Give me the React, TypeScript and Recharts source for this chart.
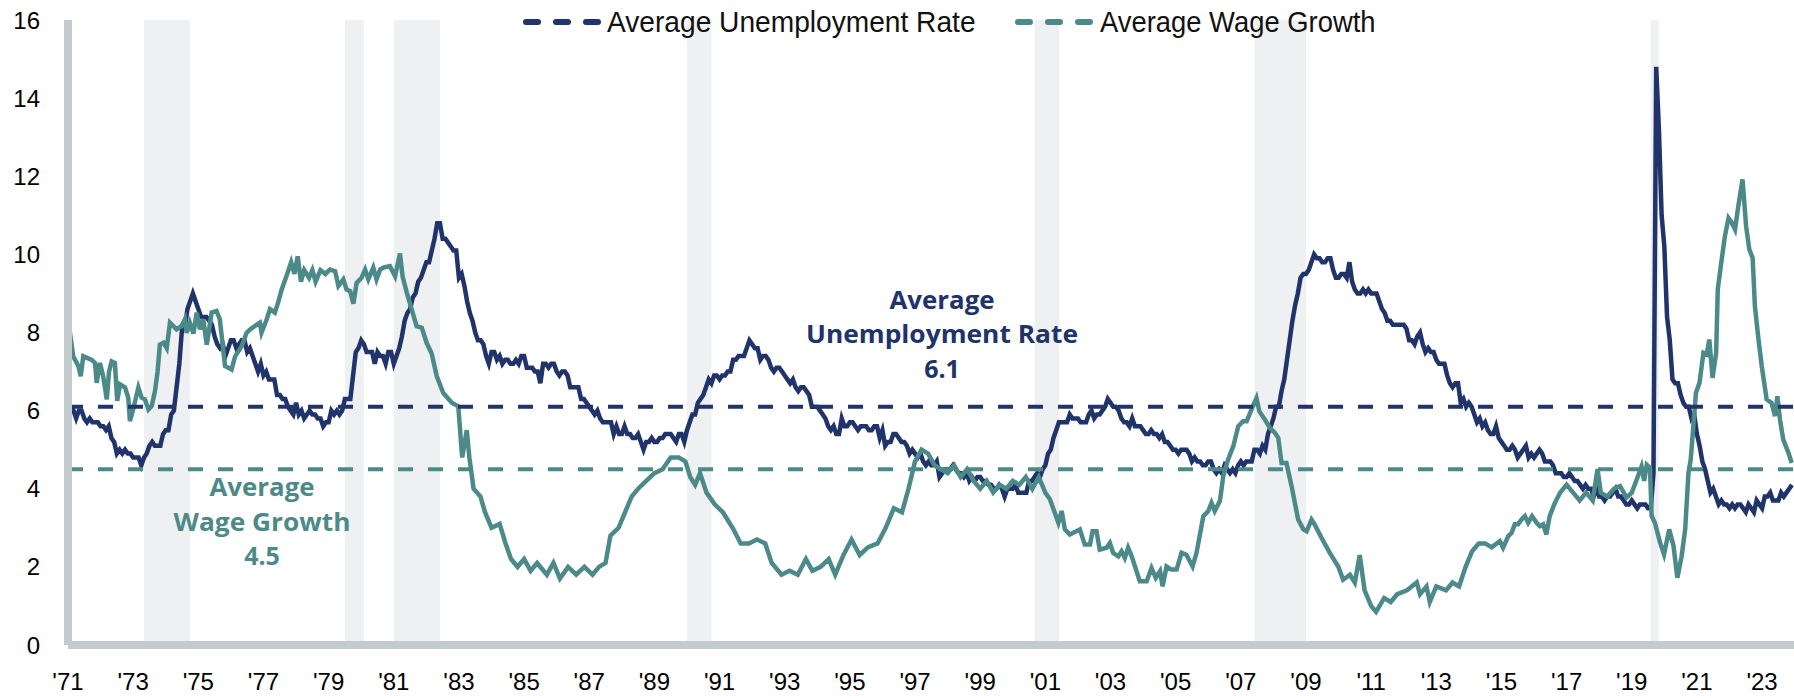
import React from 'react';
import { LineChart, Line, XAxis, YAxis, ReferenceLine, ReferenceArea } from 'recharts';

const NAVY = '#20336b';
const TEAL = '#4c8a8a';
const AXIS_GRAY = '#c3cbce';
const SHADE = '#eef0f2';

// monthly series start in July 1971; x is a decimal year
const START = 1971.5;
const END = 2024.48;

// US unemployment rate, Jul 1971 - Jun 2024
const unemployment = [
  6.0, 6.1, 6.0, 5.8, 6.0, 6.0,
  5.8, 5.7, 5.8, 5.7, 5.7, 5.7, 5.6, 5.6, 5.5, 5.6, 5.3, 5.2,
  4.9, 5.0, 4.9, 5.0, 4.9, 4.9, 4.8, 4.8, 4.8, 4.6, 4.8, 4.9,
  5.1, 5.2, 5.1, 5.1, 5.1, 5.4, 5.5, 5.5, 5.9, 6.0, 6.6, 7.2,
  8.1, 8.1, 8.6, 8.8, 9.0, 8.8, 8.6, 8.4, 8.4, 8.4, 8.3, 8.2,
  7.9, 7.7, 7.6, 7.7, 7.4, 7.6, 7.8, 7.8, 7.6, 7.7, 7.8, 7.8,
  7.5, 7.6, 7.4, 7.2, 7.0, 7.2, 6.9, 7.0, 6.8, 6.8, 6.8, 6.4,
  6.4, 6.3, 6.3, 6.1, 6.0, 5.9, 6.2, 5.9, 6.0, 5.8, 5.9, 6.0,
  5.9, 5.9, 5.8, 5.8, 5.6, 5.7, 5.7, 6.0, 5.9, 6.0, 5.9, 6.0,
  6.3, 6.3, 6.3, 6.9, 7.5, 7.6, 7.8, 7.7, 7.5, 7.5, 7.5, 7.2,
  7.5, 7.4, 7.4, 7.2, 7.5, 7.5, 7.2, 7.4, 7.6, 7.9, 8.3, 8.5,
  8.6, 8.9, 9.0, 9.3, 9.4, 9.6, 9.8, 9.8, 10.1, 10.4, 10.8, 10.8,
  10.4, 10.4, 10.3, 10.2, 10.1, 10.1, 9.4, 9.5, 9.2, 8.8, 8.5, 8.3,
  8.0, 7.8, 7.8, 7.7, 7.4, 7.2, 7.5, 7.5, 7.3, 7.4, 7.2, 7.3,
  7.3, 7.2, 7.2, 7.3, 7.2, 7.4, 7.4, 7.1, 7.1, 7.1, 7.0, 7.0,
  6.7, 7.2, 7.2, 7.1, 7.2, 7.2, 7.0, 6.9, 7.0, 7.0, 6.9, 6.6,
  6.6, 6.6, 6.6, 6.3, 6.3, 6.2, 6.1, 6.0, 5.9, 6.0, 5.8, 5.7,
  5.7, 5.7, 5.7, 5.4, 5.6, 5.4, 5.4, 5.6, 5.4, 5.4, 5.3, 5.3,
  5.4, 5.2, 5.0, 5.2, 5.2, 5.3, 5.2, 5.2, 5.3, 5.3, 5.4, 5.4,
  5.4, 5.3, 5.2, 5.4, 5.4, 5.2, 5.5, 5.7, 5.9, 5.9, 6.2, 6.3,
  6.4, 6.6, 6.8, 6.7, 6.9, 6.9, 6.8, 6.9, 6.9, 7.0, 7.0, 7.3,
  7.3, 7.4, 7.4, 7.4, 7.6, 7.8, 7.7, 7.6, 7.6, 7.3, 7.4, 7.4,
  7.3, 7.1, 7.0, 7.1, 7.1, 7.0, 6.9, 6.8, 6.7, 6.8, 6.6, 6.5,
  6.6, 6.6, 6.5, 6.4, 6.1, 6.1, 6.1, 6.0, 5.9, 5.8, 5.6, 5.5,
  5.6, 5.4, 5.4, 5.8, 5.6, 5.6, 5.7, 5.7, 5.6, 5.5, 5.6, 5.6,
  5.6, 5.5, 5.5, 5.6, 5.6, 5.3, 5.5, 5.1, 5.2, 5.2, 5.4, 5.4,
  5.3, 5.2, 5.2, 5.1, 4.9, 5.0, 4.9, 4.8, 4.9, 4.7, 4.6, 4.7,
  4.6, 4.6, 4.7, 4.3, 4.4, 4.5, 4.5, 4.5, 4.6, 4.5, 4.4, 4.4,
  4.3, 4.4, 4.2, 4.3, 4.2, 4.3, 4.3, 4.2, 4.2, 4.1, 4.1, 4.0,
  4.0, 4.1, 4.0, 3.8, 4.0, 4.0, 4.0, 4.1, 3.9, 3.9, 3.9, 3.9,
  4.2, 4.2, 4.3, 4.4, 4.3, 4.5, 4.6, 4.9, 5.0, 5.3, 5.5, 5.7,
  5.7, 5.7, 5.7, 5.9, 5.8, 5.8, 5.8, 5.7, 5.7, 5.7, 5.9, 6.0,
  5.8, 5.9, 5.9, 6.0, 6.1, 6.3, 6.2, 6.1, 6.1, 6.0, 5.8, 5.7,
  5.7, 5.6, 5.8, 5.6, 5.6, 5.6, 5.5, 5.4, 5.4, 5.5, 5.4, 5.4,
  5.3, 5.4, 5.2, 5.2, 5.1, 5.0, 5.0, 4.9, 5.0, 5.0, 5.0, 4.9,
  4.7, 4.8, 4.7, 4.7, 4.6, 4.6, 4.7, 4.7, 4.5, 4.4, 4.5, 4.4,
  4.6, 4.5, 4.4, 4.5, 4.4, 4.6, 4.7, 4.6, 4.7, 4.7, 4.7, 5.0,
  5.0, 4.9, 5.1, 5.0, 5.4, 5.6, 5.8, 6.1, 6.1, 6.5, 6.8, 7.3,
  7.8, 8.3, 8.7, 9.0, 9.4, 9.5, 9.5, 9.6, 9.8, 10.0, 9.9, 9.9,
  9.8, 9.8, 9.9, 9.9, 9.6, 9.4, 9.4, 9.5, 9.5, 9.4, 9.8, 9.3,
  9.1, 9.0, 9.0, 9.1, 9.0, 9.1, 9.0, 9.0, 9.0, 8.8, 8.6, 8.5,
  8.3, 8.3, 8.2, 8.2, 8.2, 8.2, 8.2, 8.1, 7.8, 7.8, 7.7, 7.9,
  8.0, 7.7, 7.5, 7.6, 7.5, 7.5, 7.3, 7.2, 7.2, 7.2, 6.9, 6.7,
  6.6, 6.7, 6.7, 6.2, 6.3, 6.1, 6.2, 6.1, 5.9, 5.7, 5.8, 5.6,
  5.7, 5.5, 5.4, 5.4, 5.6, 5.3, 5.2, 5.1, 5.0, 5.0, 5.1, 5.0,
  4.8, 4.9, 5.0, 5.1, 4.8, 4.9, 4.8, 4.9, 5.0, 4.9, 4.7, 4.7,
  4.7, 4.6, 4.4, 4.4, 4.4, 4.3, 4.3, 4.4, 4.3, 4.2, 4.2, 4.1,
  4.0, 4.1, 4.0, 4.0, 3.8, 4.0, 3.8, 3.8, 3.7, 3.8, 3.8, 3.9,
  4.0, 3.8, 3.8, 3.7, 3.6, 3.6, 3.7, 3.6, 3.5, 3.6, 3.6, 3.6,
  3.5, 3.5, 4.4, 14.8, 13.2, 11.0, 10.2, 8.4, 7.8, 6.8, 6.7, 6.7,
  6.4, 6.2, 6.1, 6.1, 5.8, 5.9, 5.4, 5.1, 4.7, 4.5, 4.2, 3.9,
  4.0, 3.8, 3.6, 3.7, 3.6, 3.6, 3.5, 3.6, 3.5, 3.6, 3.6, 3.5,
  3.4, 3.6, 3.5, 3.4, 3.7, 3.6, 3.5, 3.8, 3.8, 3.9, 3.7, 3.7,
  3.7, 3.9, 3.8, 3.9, 4.0, 4.1,
];

// wage growth, [decimal year, %]
const wageGrowth: [number, number][] = [
  [1971.51, 8.29], [1971.66, 7.39], [1971.82, 7.14], [1971.89, 6.88], [1971.97, 7.39],
  [1972.23, 7.3], [1972.33, 7.22], [1972.38, 6.71], [1972.48, 7.22], [1972.58, 6.88],
  [1972.69, 6.29], [1972.76, 7.0], [1972.84, 7.26], [1972.94, 7.22], [1973.01, 6.25],
  [1973.1, 6.67], [1973.25, 6.59], [1973.35, 6.33], [1973.4, 5.73], [1973.5, 6.03],
  [1973.66, 6.59], [1973.76, 6.33], [1973.86, 6.29], [1973.97, 6.03], [1974.07, 6.12],
  [1974.17, 6.5], [1974.25, 7.0], [1974.32, 7.69], [1974.43, 7.74], [1974.53, 7.6],
  [1974.63, 8.25], [1974.83, 8.08], [1974.99, 8.17], [1975.09, 8.34], [1975.14, 7.99],
  [1975.24, 8.25], [1975.35, 7.97], [1975.45, 8.51], [1975.55, 8.08], [1975.65, 8.34],
  [1975.76, 7.69], [1975.91, 8.51], [1976.06, 8.55], [1976.16, 8.34], [1976.32, 7.14],
  [1976.42, 7.1], [1976.52, 7.05], [1976.63, 7.39], [1976.83, 7.65], [1976.98, 7.99],
  [1977.09, 8.08], [1977.24, 8.17], [1977.39, 8.25], [1977.44, 8.0], [1977.6, 8.34],
  [1977.7, 8.6], [1977.85, 8.51], [1977.95, 8.77], [1978.06, 9.1], [1978.21, 9.45],
  [1978.35, 9.8], [1978.45, 9.5], [1978.55, 9.95], [1978.65, 9.3], [1978.75, 9.6],
  [1978.9, 9.4], [1979.0, 9.6], [1979.1, 9.3], [1979.25, 9.6], [1979.4, 9.5],
  [1979.54, 9.61], [1979.7, 9.57], [1979.8, 9.19], [1979.95, 9.36], [1980.05, 9.1],
  [1980.16, 9.06], [1980.26, 8.74], [1980.36, 9.27], [1980.51, 9.4], [1980.62, 9.61],
  [1980.72, 9.36], [1980.87, 9.66], [1980.97, 9.36], [1981.08, 9.61], [1981.18, 9.66],
  [1981.38, 9.7], [1981.54, 9.44], [1981.69, 10.02], [1981.77, 9.44], [1981.9, 9.02],
  [1982.05, 8.59], [1982.2, 8.16], [1982.36, 8.12], [1982.51, 7.73], [1982.66, 7.47],
  [1982.82, 6.88], [1983.02, 6.45], [1983.28, 6.2], [1983.48, 6.11], [1983.6, 4.8],
  [1983.74, 5.5], [1983.82, 4.8], [1983.95, 4.0], [1984.16, 3.8], [1984.3, 3.4],
  [1984.5, 3.0], [1984.75, 3.1], [1984.93, 2.6], [1985.1, 2.2], [1985.3, 2.0],
  [1985.5, 2.2], [1985.7, 1.9], [1985.9, 2.1], [1986.2, 1.8], [1986.4, 2.1],
  [1986.6, 1.7], [1986.85, 2.0], [1987.1, 1.8], [1987.35, 2.0], [1987.6, 1.8],
  [1987.8, 2.0], [1988.0, 2.1], [1988.15, 2.8], [1988.4, 3.0], [1988.55, 3.3],
  [1988.8, 3.8], [1989.0, 4.0], [1989.25, 4.2], [1989.5, 4.4], [1989.75, 4.5],
  [1990.0, 4.8], [1990.25, 4.8], [1990.45, 4.7], [1990.6, 4.3], [1990.75, 4.1],
  [1990.9, 4.4], [1991.1, 3.9], [1991.35, 3.6], [1991.6, 3.4], [1991.9, 3.0],
  [1992.15, 2.6], [1992.4, 2.6], [1992.65, 2.7], [1992.9, 2.6], [1993.1, 2.1],
  [1993.4, 1.8], [1993.65, 1.9], [1993.9, 1.8], [1994.15, 2.2], [1994.35, 1.9],
  [1994.6, 2.0], [1994.85, 2.2], [1995.05, 1.8], [1995.3, 2.3], [1995.55, 2.7],
  [1995.8, 2.3], [1996.05, 2.5], [1996.35, 2.6], [1996.6, 3.0], [1996.85, 3.5],
  [1997.1, 3.4], [1997.3, 4.0], [1997.5, 4.7], [1997.7, 5.0], [1997.9, 4.9],
  [1998.1, 4.6], [1998.3, 4.5], [1998.5, 4.4], [1998.7, 4.6], [1998.9, 4.3],
  [1999.1, 4.5], [1999.3, 4.2], [1999.5, 4.0], [1999.7, 4.2], [1999.9, 3.9],
  [2000.1, 4.1], [2000.3, 4.0], [2000.5, 4.2], [2000.7, 4.1], [2000.9, 4.3],
  [2001.1, 4.0], [2001.3, 4.3], [2001.5, 3.9], [2001.64, 3.73], [2001.9, 3.13],
  [2002.0, 3.43], [2002.1, 2.96], [2002.25, 2.83], [2002.56, 2.96], [2002.71, 2.57],
  [2002.87, 2.57], [2002.95, 2.91], [2003.07, 2.91], [2003.17, 2.44], [2003.38, 2.49],
  [2003.48, 2.61], [2003.58, 2.36], [2003.74, 2.27], [2003.84, 2.4], [2003.94, 2.23],
  [2004.04, 2.49], [2004.15, 2.27], [2004.4, 1.63], [2004.61, 1.63], [2004.76, 1.97],
  [2004.89, 1.72], [2005.02, 1.89], [2005.1, 1.5], [2005.22, 2.01], [2005.37, 1.93],
  [2005.53, 1.93], [2005.68, 2.36], [2005.83, 2.31], [2006.02, 2.01], [2006.14, 2.36],
  [2006.35, 3.3], [2006.5, 3.43], [2006.6, 3.64], [2006.7, 3.43], [2006.86, 3.69],
  [2006.96, 4.32], [2007.11, 4.75], [2007.27, 5.09], [2007.42, 5.6], [2007.57, 5.73],
  [2007.68, 5.73], [2007.83, 6.03], [2007.98, 6.32], [2008.07, 5.98], [2008.24, 5.77],
  [2008.39, 5.56], [2008.55, 5.43], [2008.65, 5.3], [2008.75, 4.66], [2008.9, 4.66],
  [2009.06, 4.06], [2009.26, 3.21], [2009.42, 2.96], [2009.52, 2.91], [2009.67, 3.21],
  [2009.77, 3.08], [2009.98, 2.74], [2010.23, 2.36], [2010.49, 2.01], [2010.64, 1.67],
  [2010.85, 1.8], [2011.0, 1.6], [2011.15, 2.3], [2011.3, 1.4], [2011.5, 1.0],
  [2011.65, 0.85], [2011.9, 1.2], [2012.1, 1.1], [2012.3, 1.3], [2012.6, 1.4],
  [2012.9, 1.6], [2013.0, 1.3], [2013.2, 1.5], [2013.3, 1.1], [2013.5, 1.5],
  [2013.8, 1.4], [2014.0, 1.6], [2014.2, 1.5], [2014.4, 2.0], [2014.6, 2.4],
  [2014.8, 2.6], [2015.0, 2.6], [2015.2, 2.5], [2015.45, 2.66], [2015.55, 2.49],
  [2015.71, 2.79], [2015.81, 2.87], [2015.91, 3.09], [2016.01, 3.09], [2016.11, 3.21],
  [2016.22, 3.3], [2016.32, 3.13], [2016.44, 3.3], [2016.58, 3.13], [2016.68, 3.04],
  [2016.78, 3.09], [2016.88, 2.83], [2016.98, 3.3], [2017.14, 3.64], [2017.3, 3.9],
  [2017.5, 4.1], [2017.7, 3.9], [2017.9, 3.7], [2018.1, 3.9], [2018.3, 3.7],
  [2018.45, 4.5], [2018.55, 3.9], [2018.75, 3.8], [2018.95, 4.0], [2019.14, 4.07],
  [2019.34, 3.78], [2019.5, 3.9], [2019.65, 4.23], [2019.8, 4.57], [2019.88, 4.2],
  [2019.96, 4.61], [2020.06, 4.53], [2020.11, 3.3], [2020.21, 3.13], [2020.37, 2.62],
  [2020.49, 2.32], [2020.65, 2.96], [2020.78, 2.54], [2020.9, 1.72], [2021.03, 2.27],
  [2021.14, 2.96], [2021.24, 4.4], [2021.31, 4.75], [2021.39, 5.6], [2021.47, 6.46],
  [2021.58, 6.71], [2021.7, 7.48], [2021.8, 7.44], [2021.88, 7.82], [2021.98, 6.84],
  [2022.09, 7.48], [2022.14, 9.1], [2022.26, 9.87], [2022.36, 10.47], [2022.47, 10.93],
  [2022.57, 10.81], [2022.67, 10.64], [2022.77, 11.23], [2022.9, 11.92], [2023.01, 10.72],
  [2023.11, 10.12], [2023.21, 9.91], [2023.28, 8.67], [2023.39, 7.82], [2023.49, 7.14],
  [2023.64, 6.29], [2023.79, 6.2], [2023.9, 5.86], [2023.97, 6.37], [2024.05, 5.77],
  [2024.15, 5.26], [2024.31, 4.92], [2024.41, 4.66],
];

// NBER recessions, start and end as decimal years
const recessions: [number, number][] = [
  [1973.83, 1975.25],
  [1980.0, 1980.58],
  [1981.5, 1982.92],
  [1990.5, 1991.25],
  [2001.17, 2001.92],
  [2007.92, 2009.5],
  [2020.08, 2020.33],
];

const AVG_UNEMPLOYMENT = 6.1;
const AVG_WAGE = 4.5;

const xTicks = [1971.5, 1973.5, 1975.5, 1977.5, 1979.5, 1981.5, 1983.5, 1985.5, 1987.5, 1989.5, 1991.5,
  1993.5, 1995.5, 1997.5, 1999.5, 2001.5, 2003.5, 2005.5, 2007.5, 2009.5, 2011.5, 2013.5, 2015.5,
  2017.5, 2019.5, 2021.5, 2023.5];
const yTicks = [0, 2, 4, 6, 8, 10, 12, 14, 16];

const unempData = unemployment.map((v, i) => ({ t: START + i / 12, v }));
const wageData = wageGrowth.map(([t, v]) => ({ t, v }));

const tickFont = { fill: '#000', fontSize: 24, fontFamily: '"Liberation Sans", Arial, sans-serif' };
const legendFont = '"Liberation Sans", Arial, sans-serif';
const boldFont = '"Open Sans", Lato, sans-serif';

function Overlay() {
  return (
    <svg width={1794} height={698} style={{ position: 'absolute', left: 0, top: 0, pointerEvents: 'none' }}>
      {/* legend, condensed text */}
      <line x1={526} x2={598} y1={22} y2={22} stroke={NAVY} strokeWidth={6} strokeDasharray="12 18" strokeLinecap="round" />
      <text transform="translate(607 32) scale(0.938 1)" fontSize={30} fontFamily={legendFont} fill="#111">
        Average Unemployment Rate
      </text>
      <line x1={1018} x2={1090} y1={22} y2={22} stroke={TEAL} strokeWidth={6} strokeDasharray="12 18" strokeLinecap="round" />
      <text transform="translate(1100 32) scale(0.913 1)" fontSize={30} fontFamily={legendFont} fill="#111">
        Average Wage Growth
      </text>

      {/* average annotations */}
      <g fontFamily={boldFont} fontWeight={700} fontSize={25} fill={NAVY} textAnchor="middle">
        <text x={942} y={309} textLength={105} lengthAdjust="spacingAndGlyphs">Average</text>
        <text x={942} y={343} textLength={272} lengthAdjust="spacingAndGlyphs">Unemployment Rate</text>
        <text x={942} y={378}>6.1</text>
      </g>
      <g fontFamily={boldFont} fontWeight={700} fontSize={25} fill={TEAL} textAnchor="middle">
        <text x={262} y={496} textLength={105} lengthAdjust="spacingAndGlyphs">Average</text>
        <text x={262} y={531} textLength={177} lengthAdjust="spacingAndGlyphs">Wage Growth</text>
        <text x={262} y={565}>4.5</text>
      </g>
    </svg>
  );
}

export default function App() {
  return (
    <div style={{ position: 'absolute', left: 0, top: 0, width: 1794, height: 698, background: '#fff' }}>
      <LineChart width={1794} height={698} margin={{ top: 20, right: 0, bottom: 0, left: 0 }}>
        {recessions.map(([a, b]) => (
          <ReferenceArea key={a} x1={a} x2={b} fill={SHADE} fillOpacity={1} stroke="none" />
        ))}
        <XAxis
          type="number"
          dataKey="t"
          domain={[START, END]}
          allowDataOverflow
          ticks={xTicks}
          interval={0}
          tickFormatter={(t: number) => `'${String(Math.floor(t)).slice(2)}`}
          height={53}
          axisLine={{ stroke: AXIS_GRAY, strokeWidth: 8 }}
          tickLine={false}
          tickSize={0}
          tickMargin={28}
          tick={tickFont}
        />
        <YAxis
          type="number"
          domain={[0, 16]}
          ticks={yTicks}
          interval={0}
          width={68}
          axisLine={{ stroke: AXIS_GRAY, strokeWidth: 8 }}
          tickLine={false}
          tickSize={0}
          tickMargin={28}
          tick={tickFont}
        />
        <Line data={unempData} dataKey="v" type="linear" stroke={NAVY} strokeWidth={4.5} dot={false} isAnimationActive={false} />
        <Line data={wageData} dataKey="v" type="linear" stroke={TEAL} strokeWidth={4.5} dot={false} isAnimationActive={false} />
        <ReferenceLine y={AVG_UNEMPLOYMENT} stroke={NAVY} strokeWidth={4} strokeDasharray="15 15" />
        <ReferenceLine y={AVG_WAGE} stroke={TEAL} strokeWidth={4} strokeDasharray="15 15" />
      </LineChart>
      <Overlay />
    </div>
  );
}
